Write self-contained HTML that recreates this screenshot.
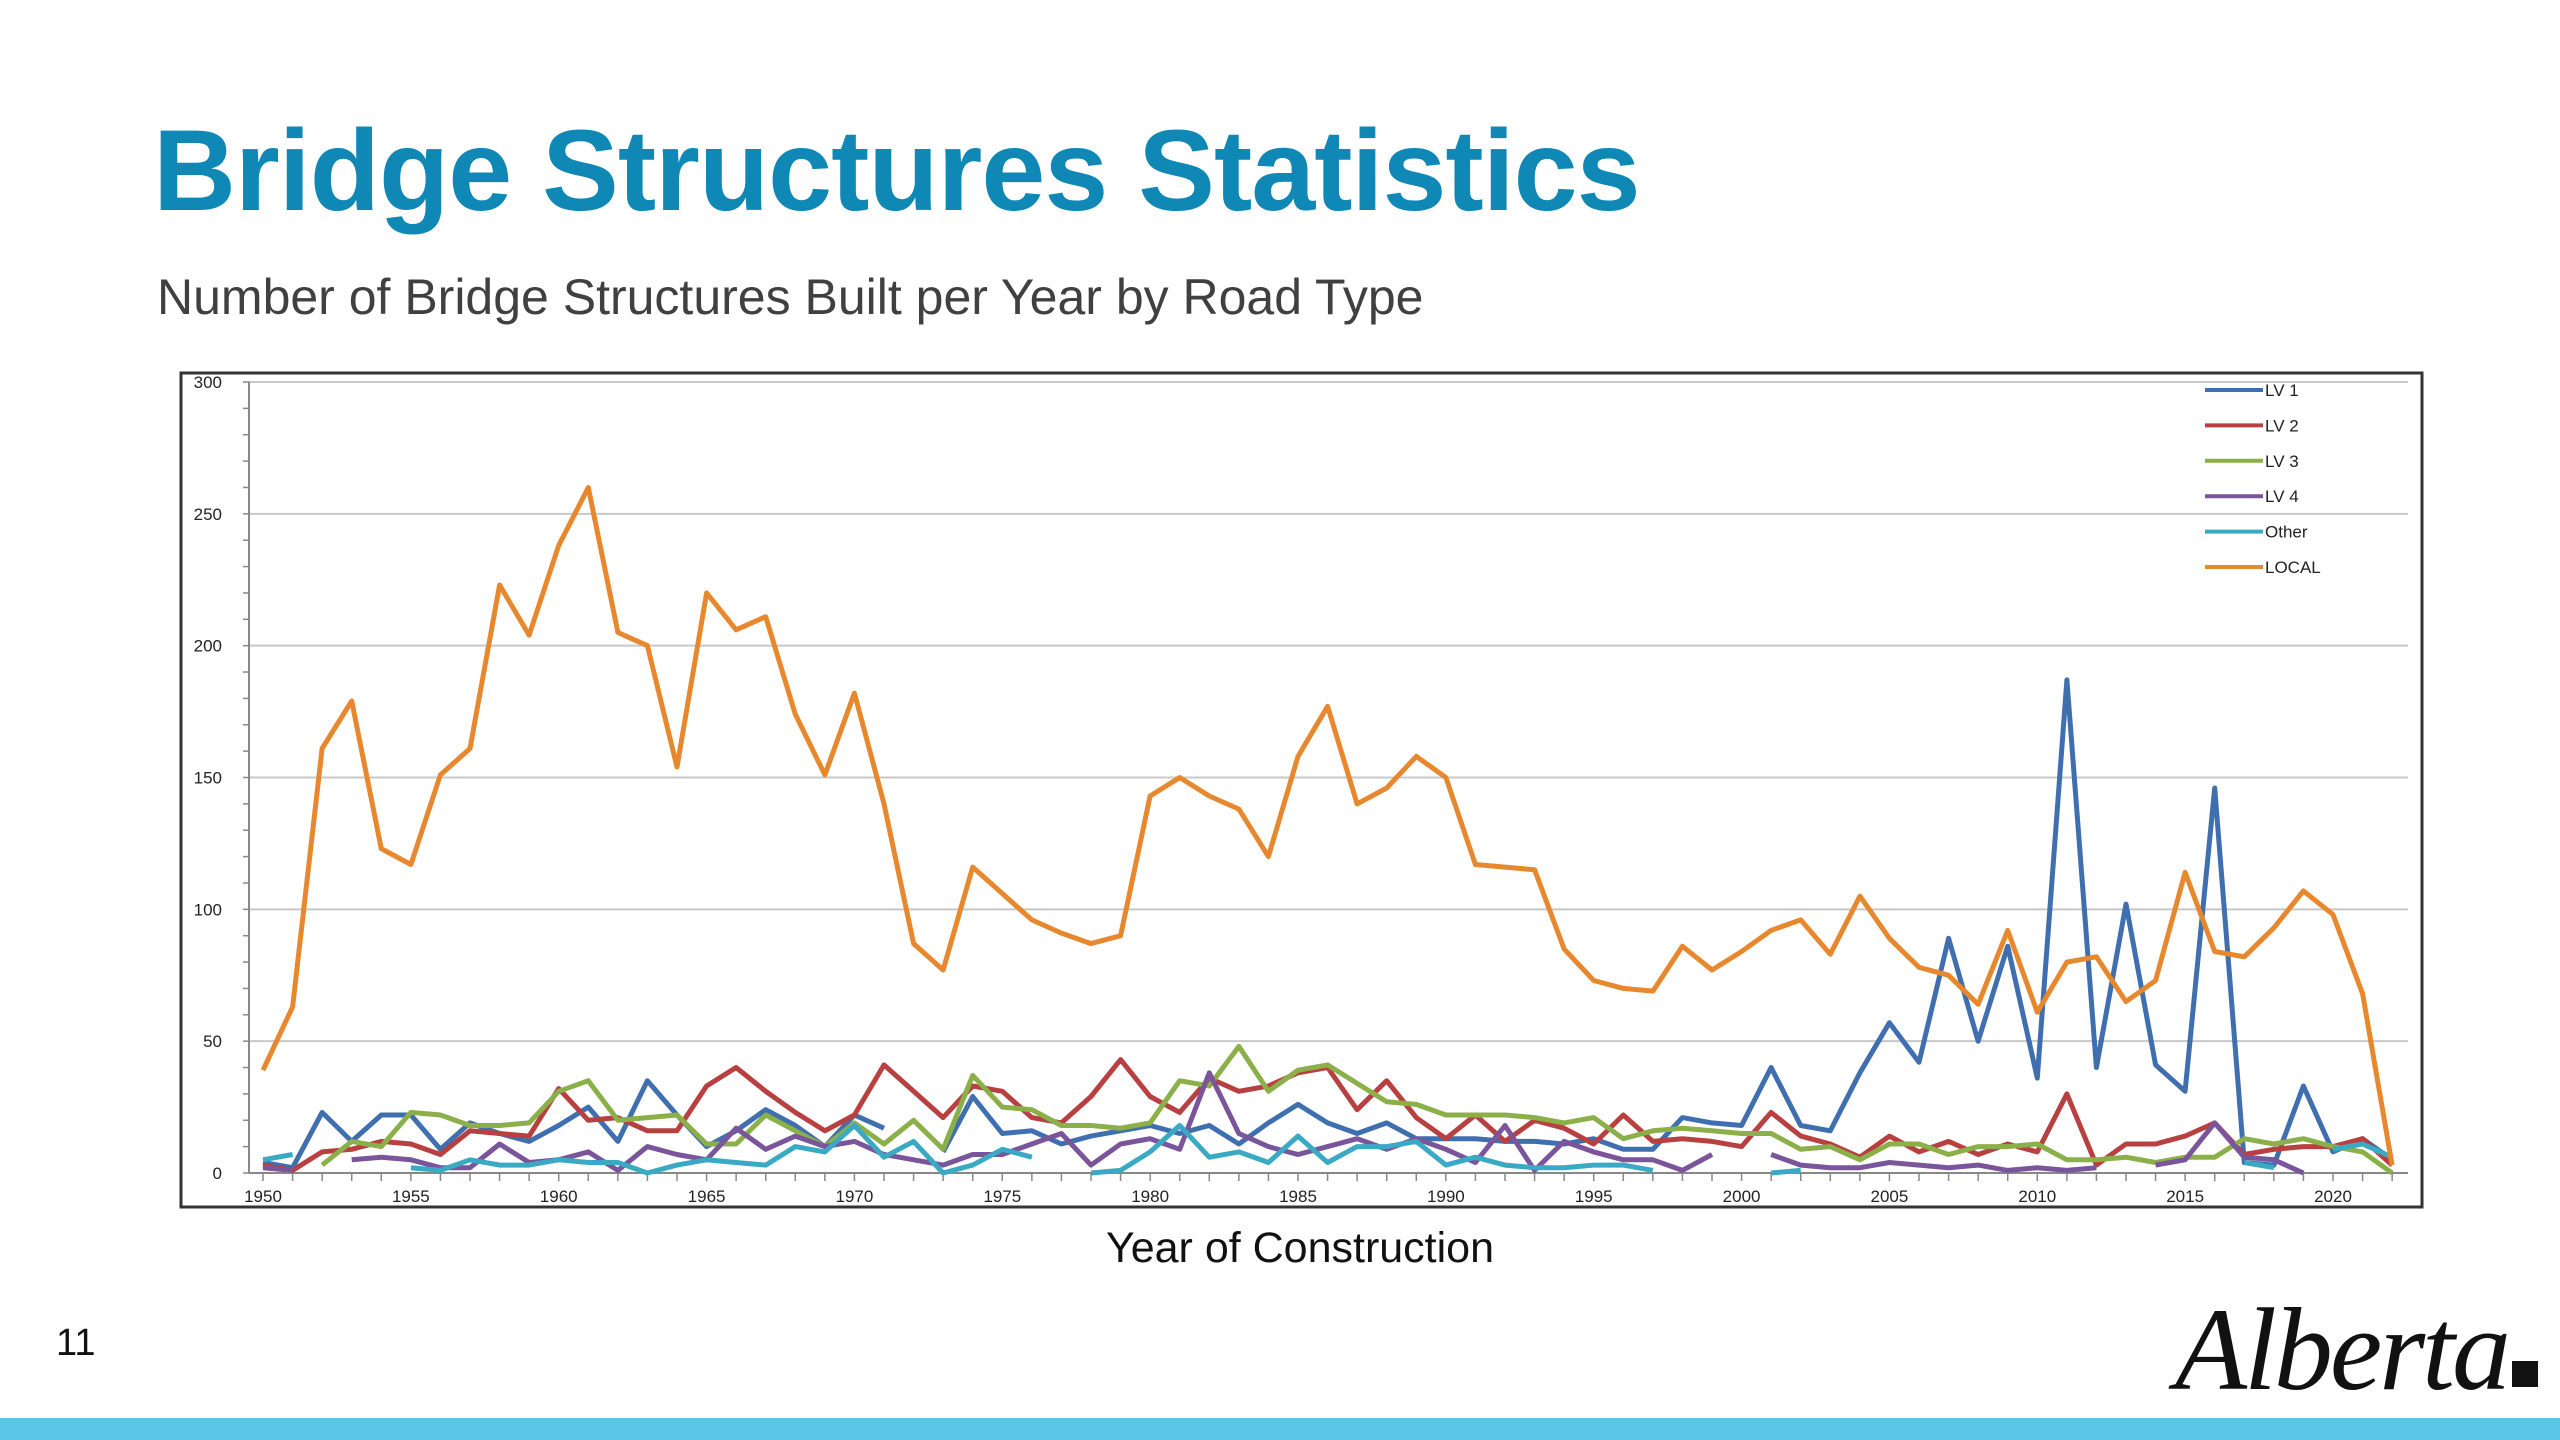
<!DOCTYPE html>
<html><head><meta charset="utf-8"><style>
body{margin:0;width:2560px;height:1440px;background:#fff;position:relative;overflow:hidden;font-family:"Liberation Sans",sans-serif}
#title{position:absolute;left:153px;top:114px;font-size:115px;font-weight:bold;color:#1088b5;margin:0;line-height:1;letter-spacing:-1px}
#sub{position:absolute;left:157px;top:268px;font-size:50px;color:#404040}
#pg{position:absolute;left:56px;top:1322px;font-size:38px;color:#111}
#logo{position:absolute;left:2175px;top:1282px;font-family:"Liberation Serif",serif;font-style:italic;font-size:118px;color:#111;letter-spacing:-3px}
#bar{position:absolute;left:0;top:1418px;width:2560px;height:22px;background:#5bc6e8}
svg{position:absolute;left:0;top:0}
</style></head><body>
<h1 id="title">Bridge Structures Statistics</h1>
<div id="sub">Number of Bridge Structures Built per Year by Road Type</div>
<div id="pg">11</div>
<div id="logo">Alberta<span style="display:inline-block;width:26px;height:26px;background:#111;margin-left:4px;vertical-align:2px"></span></div>
<div id="bar"></div>
<svg id="chart" width="2560" height="1440"></svg>
<script>
const years=[];for(let y=1950;y<=2022;y++)years.push(y);
const yTicks=[0,50,100,150,200,250,300];
const xTickLabels=[1950,1955,1960,1965,1970,1975,1980,1985,1990,1995,2000,2005,2010,2015,2020];
const seriesNames=["LV 1","LV 2","LV 3","LV 4","Other","LOCAL"];
const seriesColors=["#3f6fae","#b84040","#8bb04a","#7a559b","#3aaac4","#e8882e"];
const lv1=[4,2,23,12,22,22,9,19,15,12,18,25,12,35,22,10,16,24,18,10,22,17,null,8,29,15,16,11,14,16,18,15,18,11,19,26,19,15,19,13,13,13,12,12,11,13,9,9,21,19,18,40,18,16,38,57,42,89,50,86,36,187,40,102,41,31,146,4,3,33,8,13,5];
const lv2=[3,1,8,9,12,11,7,16,15,14,32,20,21,16,16,33,40,31,23,16,22,41,31,21,33,31,21,19,29,43,29,23,36,31,33,38,40,24,35,21,13,22,12,20,17,11,22,12,13,12,10,23,14,11,6,14,8,12,7,11,8,30,3,11,11,14,19,7,9,10,10,13,3];
const lv3=[null,null,3,12,10,23,22,18,18,19,31,35,20,21,22,11,11,22,16,10,19,11,20,9,37,25,24,18,18,17,19,35,33,48,31,39,41,34,27,26,22,22,22,21,19,21,13,16,17,16,15,15,9,10,5,11,11,7,10,10,11,5,5,6,4,6,6,13,11,13,10,8,0];
const lv4=[2,1,null,5,6,5,2,2,11,4,5,8,1,10,7,5,17,9,14,10,12,7,5,3,7,7,11,15,3,11,13,9,38,15,10,7,10,13,9,13,9,4,18,1,12,8,5,5,1,7,null,7,3,2,2,4,3,2,3,1,2,1,2,null,3,5,19,6,5,0,null,null,null];
const other=[5,7,null,null,null,2,1,5,3,3,5,4,4,0,3,5,4,3,10,8,18,6,12,0,3,9,6,null,0,1,8,18,6,8,4,14,4,10,10,12,3,6,3,2,2,3,3,1,null,null,null,0,1,null,null,null,null,null,null,null,null,null,null,null,null,null,null,4,2,null,9,11,6];
const local=[39,63,161,179,123,117,151,161,223,204,238,260,205,200,154,220,206,211,174,151,182,140,87,77,116,106,96,91,87,90,143,150,143,138,120,158,177,140,146,158,150,117,116,115,85,73,70,69,86,77,84,92,96,83,105,89,78,75,64,92,61,80,82,65,73,114,84,82,93,107,98,68,3];
const allSeries=[lv1,lv2,lv3,lv4,other,local];

const NS="http://www.w3.org/2000/svg";
const svg=document.getElementById('chart');
const X0=263,X1=2333,Y0=1173,Y1=382;
const xS=y=>X0+(y-1950)*(X1-X0)/70;
const yS=v=>Y0-v*(Y0-Y1)/300;
function mk(t,a,p){const e=document.createElementNS(NS,t);for(const k in a)e.setAttribute(k,a[k]);(p||svg).appendChild(e);return e;}

const box=mk('rect',{x:181,y:373,width:2241,height:834,fill:'none',stroke:'#333',"stroke-width":3});


yTicks.forEach(v=>{
  if(v>0){const g=mk('line',{x1:249,x2:2408,y1:yS(v),y2:yS(v),stroke:'#c8c8c8',"stroke-width":2});
  
  }
  const t=mk('text',{x:222,y:yS(v)+6,"text-anchor":"end","font-size":17,fill:'#222'});
  t.textContent=v;
  
  
});
for(let v=0;v<=300;v+=10){mk('line',{x1:243,x2:249,y1:yS(v),y2:yS(v),stroke:'#888',"stroke-width":1.5});}
const ax=mk('line',{x1:249,x2:249,y1:Y1,y2:Y0,stroke:'#888',"stroke-width":2});


const bx=mk('line',{x1:249,x2:2408,y1:Y0,y2:Y0,stroke:'#888',"stroke-width":2});


years.forEach(y=>mk('line',{x1:xS(y),x2:xS(y),y1:Y0,y2:Y0+8,stroke:'#888',"stroke-width":1.5}));
xTickLabels.forEach(y=>{const t=mk('text',{x:xS(y),y:1202,"text-anchor":"middle","font-size":17,fill:'#222'});
  t.textContent=y;
  
  });

allSeries.forEach((s,i)=>{
  let d='',pen=false;
  s.forEach((v,j)=>{if(v==null){pen=false;return;}d+=(pen?'L':'M')+xS(years[j]).toFixed(1)+' '+yS(v).toFixed(1);pen=true;});
  const p=mk('path',{d:d,fill:'none',stroke:seriesColors[i],"stroke-width":5,"stroke-linejoin":"round"});
  
  
  const ly=390+i*35.4;
  const g=mk('g',{});
  
  
  mk('line',{x1:2205,x2:2263,y1:ly,y2:ly,stroke:seriesColors[i],"stroke-width":4},g);
  const t=mk('text',{x:2265,y:ly+6,"font-size":17,fill:'#222'},g);t.textContent=seriesNames[i];
});
const xt=mk('text',{x:1300,y:1262,"text-anchor":"middle","font-size":43,fill:'#111'});
xt.textContent='Year of Construction';


</script>
</body></html>
